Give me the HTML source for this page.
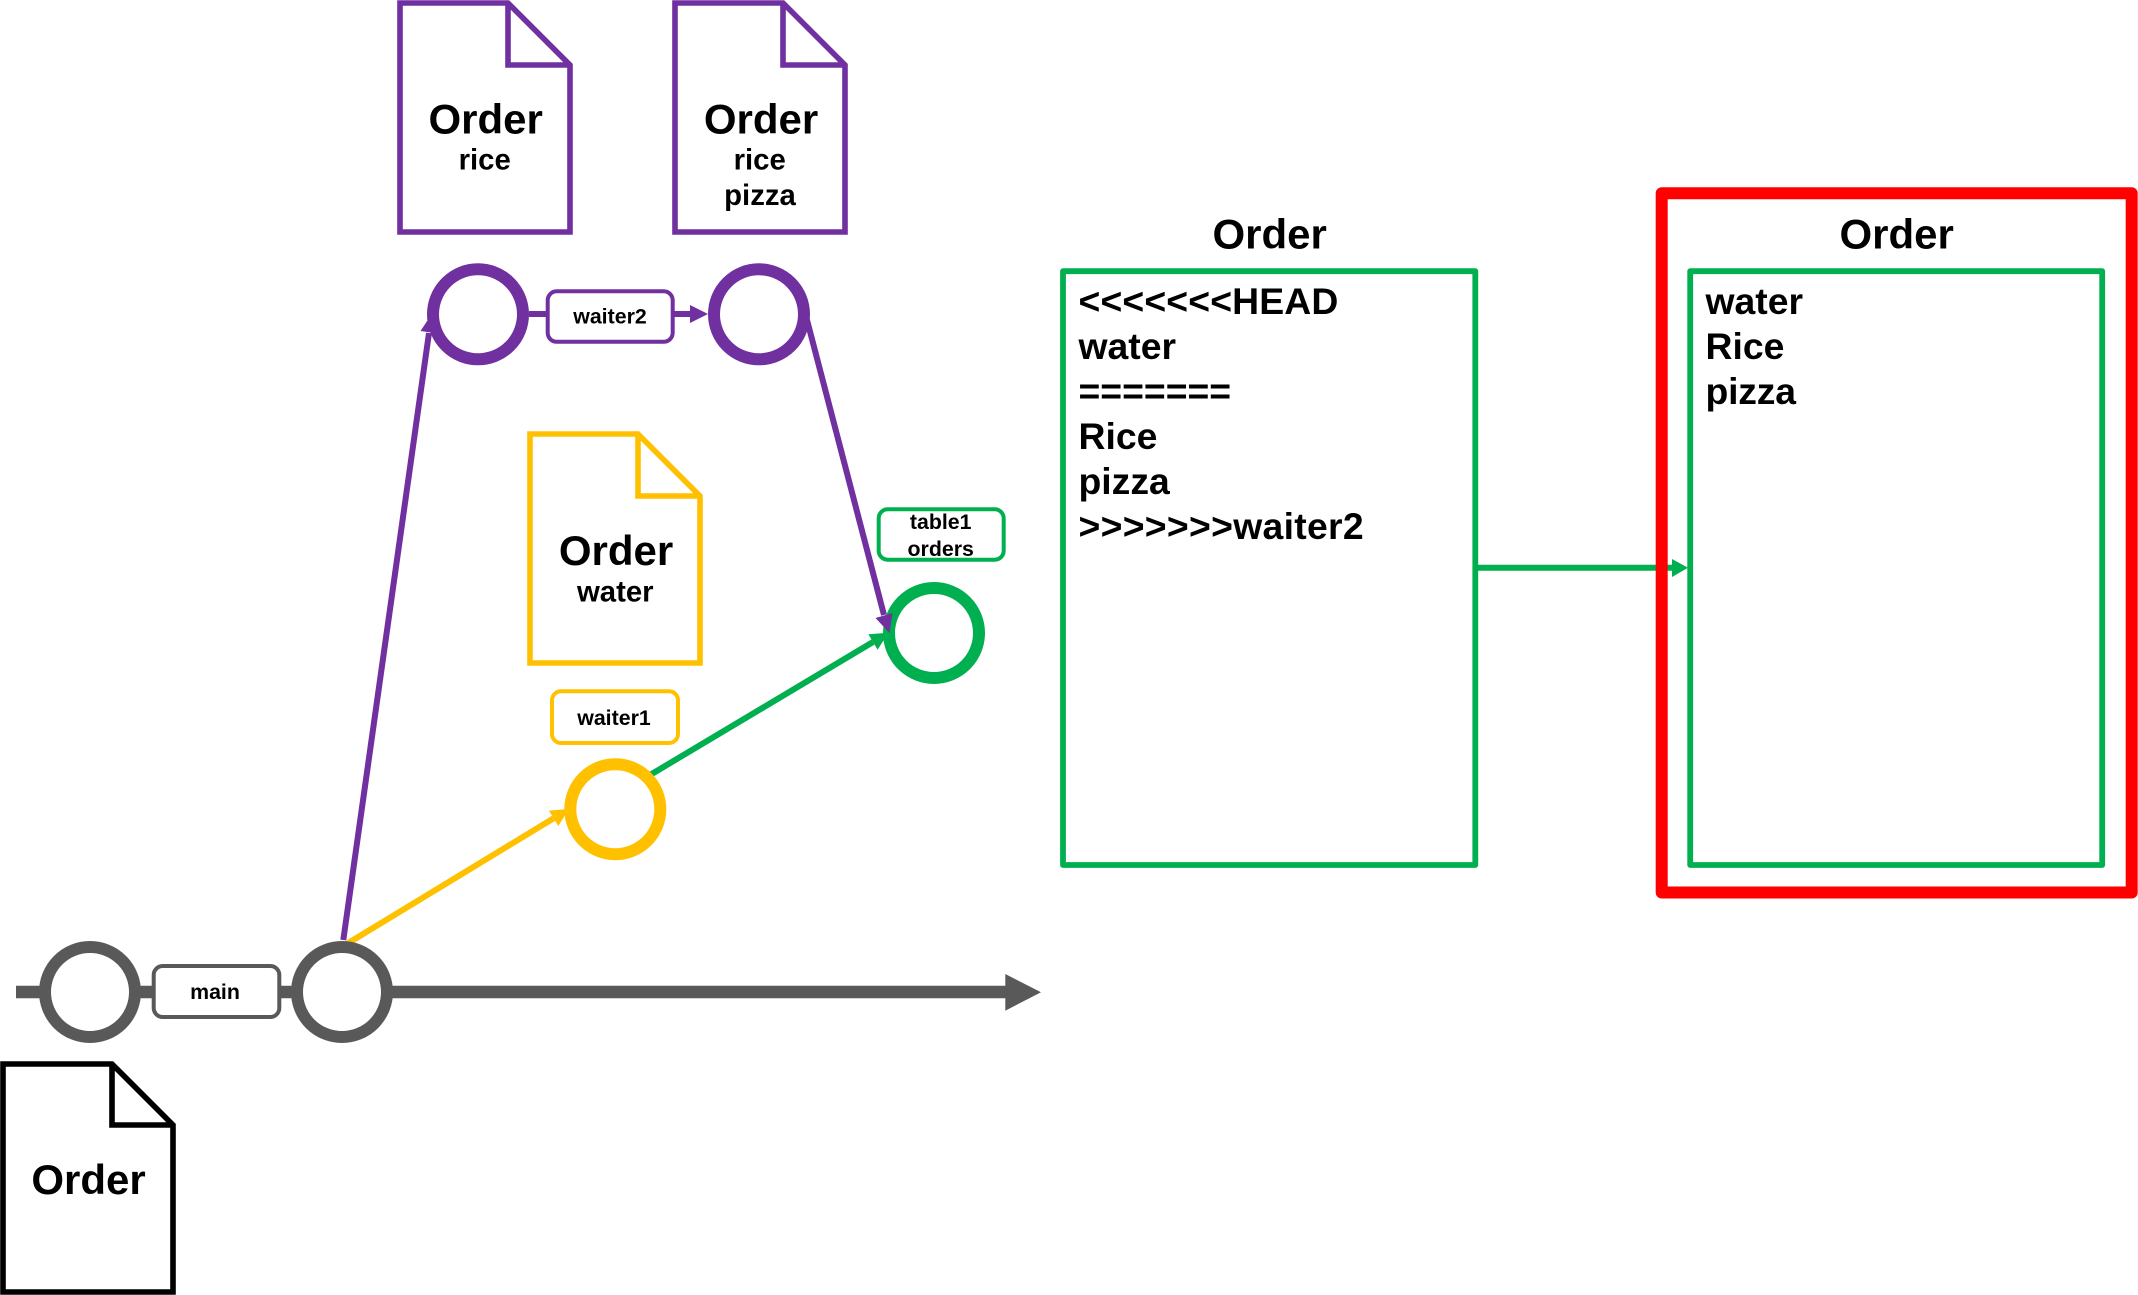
<!DOCTYPE html>
<html><head><meta charset="utf-8"><style>
html,body{margin:0;padding:0;background:#fff;width:2138px;height:1295px;overflow:hidden}
svg{display:block}
text{font-family:"Liberation Sans",sans-serif;font-weight:700;fill:#000}
.a{font-size:42px;text-anchor:middle}
.b{font-size:29.33px;text-anchor:middle}
.c{font-size:21.33px;text-anchor:middle}
.d{font-size:37.33px}
</style></head><body>
<svg width="2138" height="1295" viewBox="0 0 2138 1295" xmlns="http://www.w3.org/2000/svg">
<rect width="2138" height="1295" fill="#fff"/>
<g fill="none" stroke-miterlimit="10">
<!-- gray main line -->
<line x1="16" y1="992" x2="1006" y2="992" stroke="#595959" stroke-width="12.4"/>
<polygon points="1005.3,974 1041,992.3 1005.3,1010.7" fill="#595959"/>
<!-- purple from main -->
<line x1="343.3" y1="940" x2="429" y2="333" stroke="#7030A0" stroke-width="6"/>
<polygon points="420.5,331 438,333.5 431.8,314" fill="#7030A0"/>
<!-- yellow -->
<line x1="345" y1="945" x2="553.6" y2="818.3" stroke="#FFC000" stroke-width="6"/>
<polygon points="548.9,810.6 558.3,826 569,809" fill="#FFC000"/>
<!-- green merge -->
<line x1="645" y1="778" x2="873" y2="642" stroke="#00B050" stroke-width="6"/>
<polygon points="868.4,634.3 877.6,649.7 888.4,632.7" fill="#00B050"/>
<!-- purple commit link -->
<line x1="529" y1="314" x2="692" y2="314" stroke="#7030A0" stroke-width="6"/>
<polygon points="690,305 708,314 690,323" fill="#7030A0"/>
<!-- circles -->
<circle cx="90" cy="992" r="45" fill="#fff" stroke="#595959" stroke-width="12"/>
<circle cx="342" cy="992" r="45" fill="#fff" stroke="#595959" stroke-width="12"/>
<circle cx="478" cy="314.3" r="45" fill="#fff" stroke="#7030A0" stroke-width="12"/>
<circle cx="759" cy="314.3" r="45" fill="#fff" stroke="#7030A0" stroke-width="12"/>
<circle cx="615.3" cy="809.2" r="45" fill="#fff" stroke="#FFC000" stroke-width="12"/>
<circle cx="934" cy="633" r="45" fill="#fff" stroke="#00B050" stroke-width="12"/>
<!-- purple arrow to merge -->
<line x1="807" y1="320" x2="884" y2="615" stroke="#7030A0" stroke-width="6"/>
<polygon points="875.5,618 892.5,613 889.5,633" fill="#7030A0"/>
<!-- label boxes -->
<rect x="153.7" y="966" width="125.6" height="51" rx="9" fill="#fff" stroke="#595959" stroke-width="4"/>
<rect x="547.7" y="291.3" width="125" height="50.5" rx="9" fill="#fff" stroke="#7030A0" stroke-width="4"/>
<rect x="552" y="691.3" width="126" height="51.7" rx="9" fill="#fff" stroke="#FFC000" stroke-width="4"/>
<rect x="878.7" y="509.3" width="125" height="50.4" rx="9" fill="#fff" stroke="#00B050" stroke-width="4"/>
<!-- documents -->
<g stroke-width="5.6">
<path d="M3,1064H112L173,1125V1292H3ZM112,1064V1125H173" fill="#fff" stroke="#000"/>
<path d="M400,3H508L570,65V232H400ZM508,3V65H570" fill="#fff" stroke="#7030A0"/>
<path d="M675,3H783L845,65V232H675ZM783,3V65H845" fill="#fff" stroke="#7030A0"/>
<path d="M530,434H638L700,496V663H530ZM638,434V496H700" fill="#fff" stroke="#FFC000"/>
</g>
<!-- panels -->
<rect x="1063" y="271.2" width="412.3" height="593.8" stroke="#00B050" stroke-width="5.8" stroke-linejoin="round" fill="#fff"/>
<line x1="1475" y1="567.7" x2="1673" y2="567.7" stroke="#00B050" stroke-width="6"/>
<rect x="1661.7" y="193.3" width="470" height="699.2" stroke="#FF0000" stroke-width="12" stroke-linejoin="round"/>
<rect x="1690.2" y="271.2" width="412" height="593.8" stroke="#00B050" stroke-width="5.8" stroke-linejoin="round" fill="#fff"/>
<polygon points="1672,559 1688,567.7 1672,577" fill="#00B050"/>
</g>
<text class="a" x="88.5" y="1194">Order</text>
<text class="a" x="485.7" y="133.5">Order</text>
<text class="b" x="484.7" y="169.3">rice</text>
<text class="a" x="761" y="133.5">Order</text>
<text class="b" x="759.7" y="169.3">rice</text>
<text class="b" x="760" y="205">pizza</text>
<text class="a" x="616" y="565">Order</text>
<text class="b" x="615.3" y="601.7">water</text>
<text class="c" x="215" y="999">main</text>
<text class="c" x="610" y="323.3">waiter2</text>
<text class="c" x="614" y="725">waiter1</text>
<text class="c" x="940.7" y="529">table1</text>
<text class="c" x="940.7" y="556">orders</text>
<text class="a" x="1269.7" y="248.5">Order</text>
<text class="d" x="1078.5" y="314" style="letter-spacing:.15px">&lt;&lt;&lt;&lt;&lt;&lt;&lt;HEAD</text>
<text class="d" x="1078.5" y="359">water</text>
<text class="d" x="1078.5" y="404">=======</text>
<text class="d" x="1078.5" y="449">Rice</text>
<text class="d" x="1078.5" y="494">pizza</text>
<text class="d" x="1078.5" y="539" style="letter-spacing:.3px">&gt;&gt;&gt;&gt;&gt;&gt;&gt;waiter2</text>
<text class="a" x="1896.7" y="248.5">Order</text>
<text class="d" x="1705.5" y="314">water</text>
<text class="d" x="1705.5" y="359">Rice</text>
<text class="d" x="1705.5" y="404" style="letter-spacing:-.2px">pizza</text>
</svg>
</body></html>
